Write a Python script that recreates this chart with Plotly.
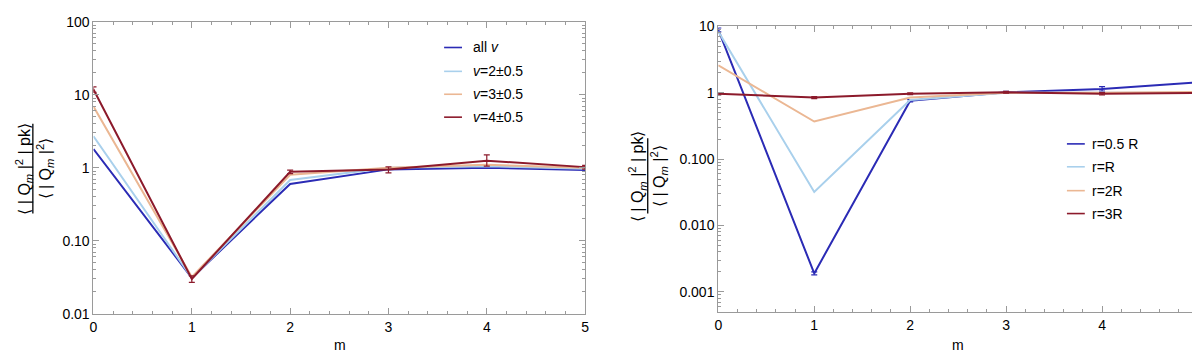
import plotly.graph_objects as go
import numpy as np

# data: left panel (velocity bins)
m_vals = [0, 1, 2, 3, 4, 5]
all_v = [1.8, 0.031, 0.60, 0.95, 1.00, 0.93]
v2 = [2.7, 0.031, 0.68, 1.00, 1.05, 0.97]
v3 = [6.9, 0.032, 0.80, 1.00, 1.10, 1.00]
v4 = [11.8, 0.030, 0.88, 0.95, 1.25, 1.02]
v4_err_up = [1.0, 0.003, 0.05, 0.08, 0.25, 0.06]
v4_err_dn = [1.0, 0.003, 0.05, 0.10, 0.20, 0.06]

# data: right panel (radius bins)
r05 = [8.9, 0.0019, 0.76, 1.02, 1.14, 1.44]
r05_err_up = [0.6, 0.0001, 0.03, 0.03, 0.10, 0.45]
r05_err_dn = [0.6, 0.0001, 0.03, 0.03, 0.08, 0.45]
r1 = [8.4, 0.032, 0.78, 1.00, 1.00, 1.00]
r2 = [2.6, 0.37, 0.85, 1.00, 1.00, 1.03]
r3 = [0.97, 0.85, 0.97, 1.02, 0.97, 1.00]
r3_err = [0.04, 0.03, 0.03, 0.03, 0.04, 0.04]

left_names = ["all <i>v</i>", "<i>v</i>=2±0.5", "<i>v</i>=3±0.5", "<i>v</i>=4±0.5"]
right_names = ["r=0.5 R", "r=R", "r=2R", "r=3R"]

COLORS = ["#2b2bb5", "#a9d0ec", "#ebb793", "#8c1a2b"]
FRAME = "#9a9a9a"
FONT = "Liberation Sans, Arial, sans-serif"

fig = go.Figure()

left_series = [all_v, v2, v3, v4]
for i, ys in enumerate(left_series):
    err = None
    if i == 3:
        err = dict(type="data", array=v4_err_up, arrayminus=v4_err_dn,
                   color=COLORS[i], thickness=1.2, width=3)
    fig.add_trace(go.Scatter(x=m_vals, y=ys, mode="lines", name=left_names[i],
                             line=dict(color=COLORS[i], width=2),
                             error_y=err, xaxis="x", yaxis="y", showlegend=False))

right_series = [r05, r1, r2, r3]
for i, ys in enumerate(right_series):
    err = None
    if i == 0:
        err = dict(type="data", array=r05_err_up, arrayminus=r05_err_dn,
                   color=COLORS[i], thickness=1.2, width=3)
    elif i == 3:
        err = dict(type="data", array=r3_err, color=COLORS[i], thickness=1.2, width=3)
    fig.add_trace(go.Scatter(x=m_vals, y=ys, mode="lines", name=right_names[i],
                             line=dict(color=COLORS[i], width=2),
                             error_y=err, xaxis="x2", yaxis="y2", showlegend=False))


def decade_minor(lo, hi):
    vals = []
    for e in range(lo, hi):
        for k in range(2, 10):
            vals.append(k * 10 ** e)
    return vals


TICKFONT = dict(size=14, color="black", family=FONT)

x_common = dict(range=[-0.0005, 5.0005], tickvals=m_vals, ticks="inside", ticklen=6,
                tickcolor=FRAME, showline=True, linecolor=FRAME, linewidth=1,
                mirror="ticks", showgrid=False, zeroline=False, tickfont=TICKFONT,
                ticklabeloverflow="allow",
                minor=dict(dtick=0.2, ticks="inside", ticklen=3, tickcolor=FRAME))

y_common = dict(type="log", ticks="inside", ticklen=6, tickcolor=FRAME, showline=True,
                linecolor=FRAME, mirror="ticks", showgrid=False, zeroline=False,
                tickfont=TICKFONT)

fig.update_layout(
    width=1200, height=351,
    margin=dict(l=0, r=0, t=0, b=0),
    paper_bgcolor="white", plot_bgcolor="white",
    font=dict(family=FONT, size=14, color="black"),
    xaxis=dict(domain=[82 / 1200, 577 / 1200], anchor="y", **x_common),
    xaxis2=dict(domain=[711 / 1200, 1194 / 1200], anchor="y2", **x_common),
    yaxis=dict(range=[-2, 2], domain=[1 - 312 / 351, 1 - 6 / 351], anchor="x",
               tickvals=[0.01, 0.1, 1, 10, 100],
               ticktext=["0.01", "0.10", "1", "10", "100"],
               minor=dict(tickvals=decade_minor(-2, 2), ticks="inside",
                          ticklen=3, tickcolor=FRAME), **y_common),
    yaxis2=dict(range=[np.log10(0.0005), 1], domain=[1 - 310 / 351, 1 - 11 / 351],
                anchor="x2", tickvals=[0.001, 0.01, 0.1, 1, 10],
                ticktext=["0.001", "0.010", "0.100", "1", "10"],
                minor=dict(tickvals=decade_minor(-4, 1), ticks="inside",
                           ticklen=3, tickcolor=FRAME), **y_common),
)

annotations = []
shapes = []


def px(x, y):
    return x / 1200, 1 - y / 351


# x axis titles
for xc in [330, 952]:
    ax, ay = px(xc, 345)
    annotations.append(dict(x=ax, y=ay, xref="paper", yref="paper", xanchor="center",
                            yanchor="middle", text="m", showarrow=False, font=dict(size=14)))

# y axis fraction titles
num = "⟨ | Q<sub><i>m</i></sub> |<sup>2</sup> | pk⟩"
den = "⟨ | Q<sub><i>m</i></sub> |<sup>2</sup>⟩"
for nx, bx, dx, yc, y0, y1 in [(12, 21, 33, 160, 113, 207), (630, 640, 652, 168, 128, 207)]:
    for tx, txt in [(nx, num), (dx, den)]:
        ax, ay = px(tx, yc)
        annotations.append(dict(x=ax, y=ay, xref="paper", yref="paper", xanchor="center",
                                yanchor="middle", text=txt, textangle=-90,
                                showarrow=False, font=dict(size=16)))
    shapes.append(dict(type="line", xref="paper", yref="paper",
                       x0=bx / 1200, x1=bx / 1200, y0=1 - y0 / 351, y1=1 - y1 / 351,
                       line=dict(color="black", width=1.3)))

# legends: short line sample + label
for lx, tx, rows, names in [(435, 462, [33, 58, 82, 106], left_names),
                            (1062, 1085, [134, 158, 183, 207], right_names)]:
    for i, name in enumerate(names):
        x0, yy = px(lx, rows[i])
        x1, _ = px(lx + 18, rows[i])
        shapes.append(dict(type="line", xref="paper", yref="paper",
                           x0=x0, x1=x1, y0=yy, y1=yy,
                           line=dict(color=COLORS[i], width=1.6)))
        ax, ay = px(tx, rows[i])
        annotations.append(dict(x=ax, y=ay, xref="paper", yref="paper",
                                xanchor="left", yanchor="middle", showarrow=False,
                                text=name, font=dict(size=14)))

fig.update_layout(annotations=annotations, shapes=shapes)

fig.write_html("out.html")
